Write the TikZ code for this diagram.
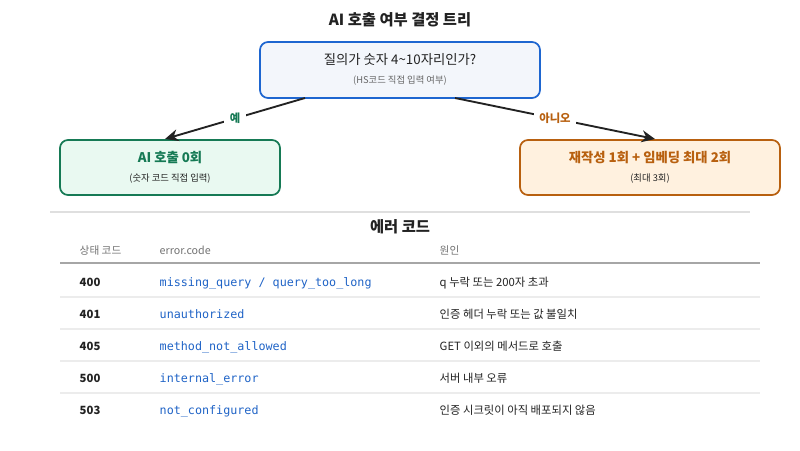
\documentclass[tikz,border=0pt]{standalone}
\usepackage{fontspec}
\setmainfont{Noto Sans CJK KR}
\setmonofont{DejaVu Sans Mono}
\usetikzlibrary{arrows.meta}
\definecolor{qblue}{HTML}{1E66D0}
\definecolor{qfill}{HTML}{F3F6FB}
\definecolor{ygreen}{HTML}{167A55}
\definecolor{yfill}{HTML}{E9F9F1}
\definecolor{norange}{HTML}{B8600F}
\definecolor{nfill}{HTML}{FFF1DF}
\definecolor{codeblue}{HTML}{1F63C6}
\definecolor{txt}{HTML}{222222}
\tikzset{
  box/.style={draw, line width=1.3pt, rounded corners=6pt},
  sub/.style={font=\fontsize{7}{8}\selectfont, text=gray!80!black},
  hdr/.style={font=\fontsize{8}{9}\selectfont, text=gray!90!black, anchor=base west},
  cell/.style={font=\fontsize{8.5}{9}\selectfont, text=txt, anchor=base west},
  code/.style={font=\ttfamily\fontsize{8.8}{9}\selectfont, text=codeblue, anchor=base west},
  link/.style={line width=1.4pt, draw=txt, -{Stealth[length=10pt,width=9pt]}}
}
\begin{document}
\begin{tikzpicture}[x=0.75pt, y=-0.75pt]
\useasboundingbox (0,0) rectangle (800,450);
\node[font=\bfseries\fontsize{11.5}{12}\selectfont, text=txt] (title) at (400,20) {AI 호출 여부 결정 트리};
% decision tree
\draw[box, draw=qblue, fill=qfill] (260,42) rectangle (540,98);
\node[font=\fontsize{10}{11}\selectfont, text=txt] (q) at (400,60) {질의가 숫자 4\textasciitilde10자리인가?};
\node[sub] (qs) at (400,81) {(HS코드 직접 입력 여부)};
\draw[box, draw=ygreen, fill=yfill] (60,140) rectangle (280,195);
\node[font=\bfseries\fontsize{10}{11}\selectfont, text=ygreen] (yes) at (170,158) {AI 호출 0회};
\node[sub, text=txt] (yess) at (170,179) {(숫자 코드 직접 입력)};
\draw[box, draw=norange, fill=nfill] (520,140) rectangle (780,195);
\node[font=\bfseries\fontsize{10}{11}\selectfont, text=norange] (no) at (650,158) {재작성 1회 + 임베딩 최대 2회};
\node[sub, text=txt] (nos) at (650,179) {(최대 3회)};
\coordinate (qa) at (305,98); \coordinate (qb) at (455,98);
\coordinate (ya) at (165,139); \coordinate (na) at (655,139);
\draw[link] (qa) -- node[fill=white, inner sep=4pt, text=ygreen, font=\bfseries\fontsize{8.5}{9}\selectfont] (lyes) {예} (ya);
\draw[link] (qb) -- node[fill=white, inner sep=4pt, text=norange, font=\bfseries\fontsize{8.5}{9}\selectfont] (lno) {아니오} (na);
% error table
\draw[gray!25, line width=1pt] (50,212) -- (750,212);
\node[font=\bfseries\fontsize{11.5}{12}\selectfont, text=txt] (etitle) at (400,227) {에러 코드};
\node[hdr] (h1) at (75,254) {상태 코드};
\node[hdr] (h2) at (155,254) {error.code};
\node[hdr] (h3) at (435,254) {원인};
\draw[gray!70, line width=1.5pt] (60,263) -- (760,263);
\foreach \y/\st/\ec/\why [count=\i] in {
  286/400/{missing\_query / query\_too\_long}/q 누락 또는 200자 초과,
  318/401/unauthorized/인증 헤더 누락 또는 값 불일치,
  350/405/method\_not\_allowed/GET 이외의 메서드로 호출,
  382/500/internal\_error/서버 내부 오류,
  414/503/not\_configured/인증 시크릿이 아직 배포되지 않음} {
  \node[cell, font=\bfseries\fontsize{8.5}{9}\selectfont] (s\i) at (75,\y) {\st};
  \node[code] (c\i) at (155,\y) {\ec};
  \node[cell] (w\i) at (435,\y) {\why};
}
\foreach \y in {297,329,361,393}
  \draw[gray!15, line width=1pt] (60,\y) -- (760,\y);
\end{tikzpicture}
\end{document}
